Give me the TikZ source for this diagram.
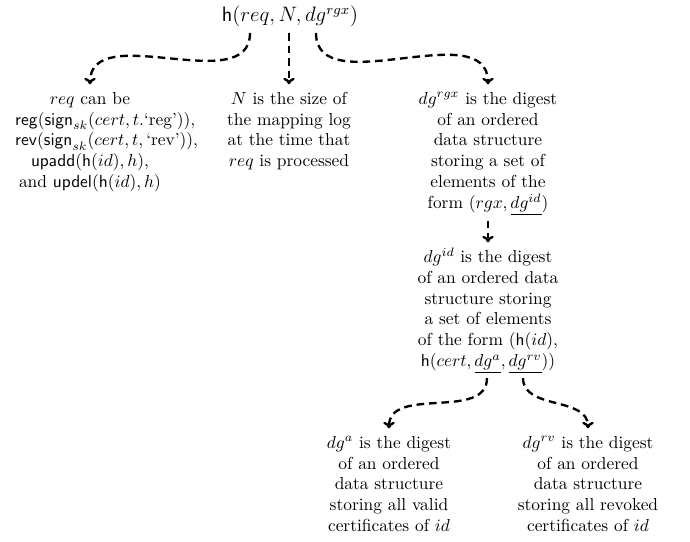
\documentclass[tikz,border=0pt]{standalone}
\usepackage{amsmath}
\usetikzlibrary{arrows.meta}
\begin{document}
\begin{tikzpicture}[x=0.575pt,y=-0.575pt,
  txt/.style={align=center, anchor=north, inner sep=0pt, outer sep=3pt},
  conn/.style={line width=1.35pt, dash pattern=on 4.4pt off 2.8pt, -{To[length=3.8pt,width=6.6pt]}},
]
\useasboundingbox (0,0) rectangle (690,542);
\node[anchor=base, inner sep=0pt, font=\large] (title) at (290,22) {$\mathsf{h}(req, N, dg^{rgx})$};
\coordinate (sreq) at (250,33);
\coordinate (sN) at (289,33);
\coordinate (sdg) at (316,33);

\node[txt, text width=86pt] (reqn) at (90,84.4) {\strut$req$ can be\\
$\mathsf{reg}(\mathsf{sign}_{sk}(cert, t.\text{`reg'})),$\\
$\mathsf{rev}(\mathsf{sign}_{sk}(cert, t, \text{`rev'})),$\\
$\mathsf{upadd}(\mathsf{h}(id), h),$\\
and $\mathsf{updel}(\mathsf{h}(id), h)$};

\node[txt] (mid) at (289,84.4) {\strut$N$ is the size of\\ the mapping log\\ at the time that\\ $req$ is processed};

\node[txt] (rgx) at (488,84.4) {\strut$dg^{rgx}$ is the digest\\ of an ordered\\ data structure\\ storing a set of\\ elements of the\\ form $(rgx, \underline{dg^{id}})$};

\node[txt] (idn) at (488,242.4) {\strut$dg^{id}$ is the digest\\ of an ordered data\\ structure storing\\ a set of elements\\ of the form $(\mathsf{h}(id),$\\ $\mathsf{h}(cert, \underline{dg^{a}}, \underline{dg^{rv}}))$};

\coordinate (sa) at (487,378);
\coordinate (srv) at (523,378);

\node[txt] (an) at (389,428.4) {\strut$dg^{a}$ is the digest\\ of an ordered\\ data structure\\ storing all valid\\ certificates of $id$};

\node[txt] (rvn) at (588,428.4) {\strut$dg^{rv}$ is the digest\\ of an ordered\\ data structure\\ storing all revoked\\ certificates of $id$};

\draw[conn] (sreq) to[out=-90,in=90] (reqn);
\draw[conn] (sN) -- (mid);
\draw[conn] (sdg) to[out=-90,in=90] (rgx);
\draw[conn] (rgx) -- (idn);
\draw[conn] (sa) to[out=-90,in=90] (an);
\draw[conn] (srv) to[out=-90,in=90] (rvn);
\end{tikzpicture}
\end{document}
